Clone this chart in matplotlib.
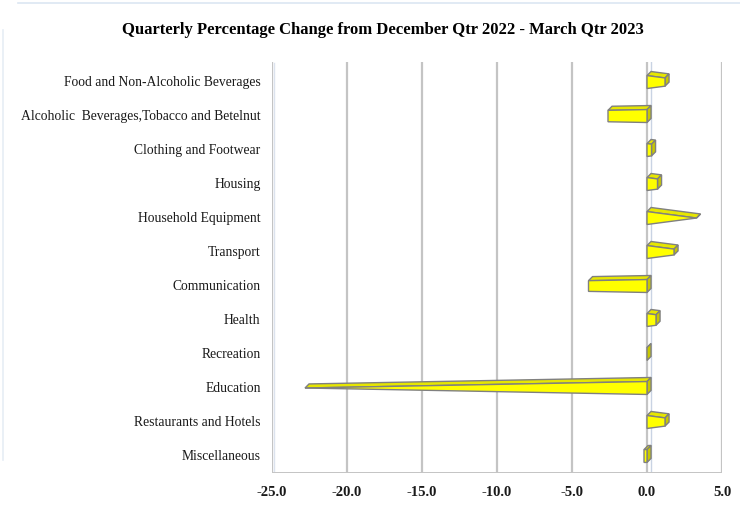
import matplotlib.pyplot as plt
from matplotlib.patches import Polygon
from matplotlib.lines import Line2D

categories = [
    'Food and Non-Alcoholic Beverages',
    'Alcoholic  Beverages,Tobacco and Betelnut',
    'Clothing and Footwear',
    'Housing',
    'Household Equipment',
    'Transport',
    'Communication',
    'Health',
    'Recreation',
    'Education',
    'Restaurants and Hotels',
    'Miscellaneous',
]
values = [1.2, -2.6, 0.3, 0.7, 3.3, 1.8, -3.9, 0.6, 0.0, -22.8, 1.2, -0.2]
ticks = [-25.0, -20.0, -15.0, -10.0, -5.0, 0.0, 5.0]

plt.rcParams['font.family'] = ['Liberation Serif', 'DejaVu Serif']

fig = plt.figure(figsize=(7.4, 5.12), dpi=100)
ax = fig.add_axes([272 / 740, 1 - 473 / 512, 450 / 740, 411 / 512])
ax.set_xlim(-25, 5)
ax.set_ylim(11.5, -0.59)
ax.axis('off')

# 3D depth offset in data units (about 4 px right, 4 px up)
dx, dy = 0.27, -0.12
h = 0.38
face, top, side, edge = '#FFFF00', '#E6E600', '#C8C800', '#808080'

# back wall gridlines
for t in ticks:
    ax.plot([t, t], [11.5, -0.59], color='#C4C4C4', lw=1.6, zorder=1)
ax.plot([-24.85, -24.85], [11.45, -0.55], color='#DCE3EE', lw=1.0, zorder=1)
ax.plot([dx, dx], [11.5, -0.59], color='#C9D3E3', lw=1.0, zorder=1)
ax.plot([-25, 5, 5.12], [11.5, 11.5, 11.35], color='#C4C4C4', lw=1.4, zorder=1)

vpos = max(v for v in values if v > 0)
vneg = min(v for v in values if v < 0)

for i, v in enumerate(values):
    vmax = vpos if v >= 0 else vneg
    frac = 1 - v / vmax if vmax else 1
    he = h * frac
    # front, top and side faces of a tapered bar
    front = [(0, i - h / 2), (v, i - he / 2), (v, i + he / 2), (0, i + h / 2)]
    topf = [(0, i - h / 2), (v, i - he / 2), (v + dx, i - he / 2 + dy), (dx, i - h / 2 + dy)]
    xe = max(v, 0)
    hs = he if v > 0 else h
    sidef = [(xe, i - hs / 2), (xe + dx, i - hs / 2 + dy), (xe + dx, i + hs / 2 + dy), (xe, i + hs / 2)]
    ax.add_patch(Polygon(topf, closed=True, fc=top, ec=edge, lw=1.0, zorder=3))
    ax.add_patch(Polygon(sidef, closed=True, fc=side, ec=edge, lw=1.0, zorder=3))
    if v != 0:
        ax.add_patch(Polygon(front, closed=True, fc=face, ec=edge, lw=1.0, zorder=4))

for i, c in enumerate(categories):
    ax.text(-25 - 0.75, i, c, ha='right', va='center', fontsize=9.8, color='#1a1a1a')
for t in ticks:
    ax.text(t, 12.08, '%.1f' % t, ha='center', va='center', fontsize=10.5,
            fontweight='bold', color='#1a1a1a')

fig.text(383 / 740, 1 - 30 / 512, 'Quarterly Percentage Change from December Qtr 2022 - March Qtr 2023',
         ha='center', va='center', fontsize=12, fontweight='bold')

# faint chart border
fig.add_artist(Line2D([18 / 740, 1], [1 - 3 / 512, 1 - 3 / 512], color='#DCE6F2', lw=1.2))
fig.add_artist(Line2D([3 / 740, 3 / 740], [1 - 30 / 512, 1 - 460 / 512], color='#E6EDF5', lw=1.2))

fig.savefig('out.png', dpi=100)
